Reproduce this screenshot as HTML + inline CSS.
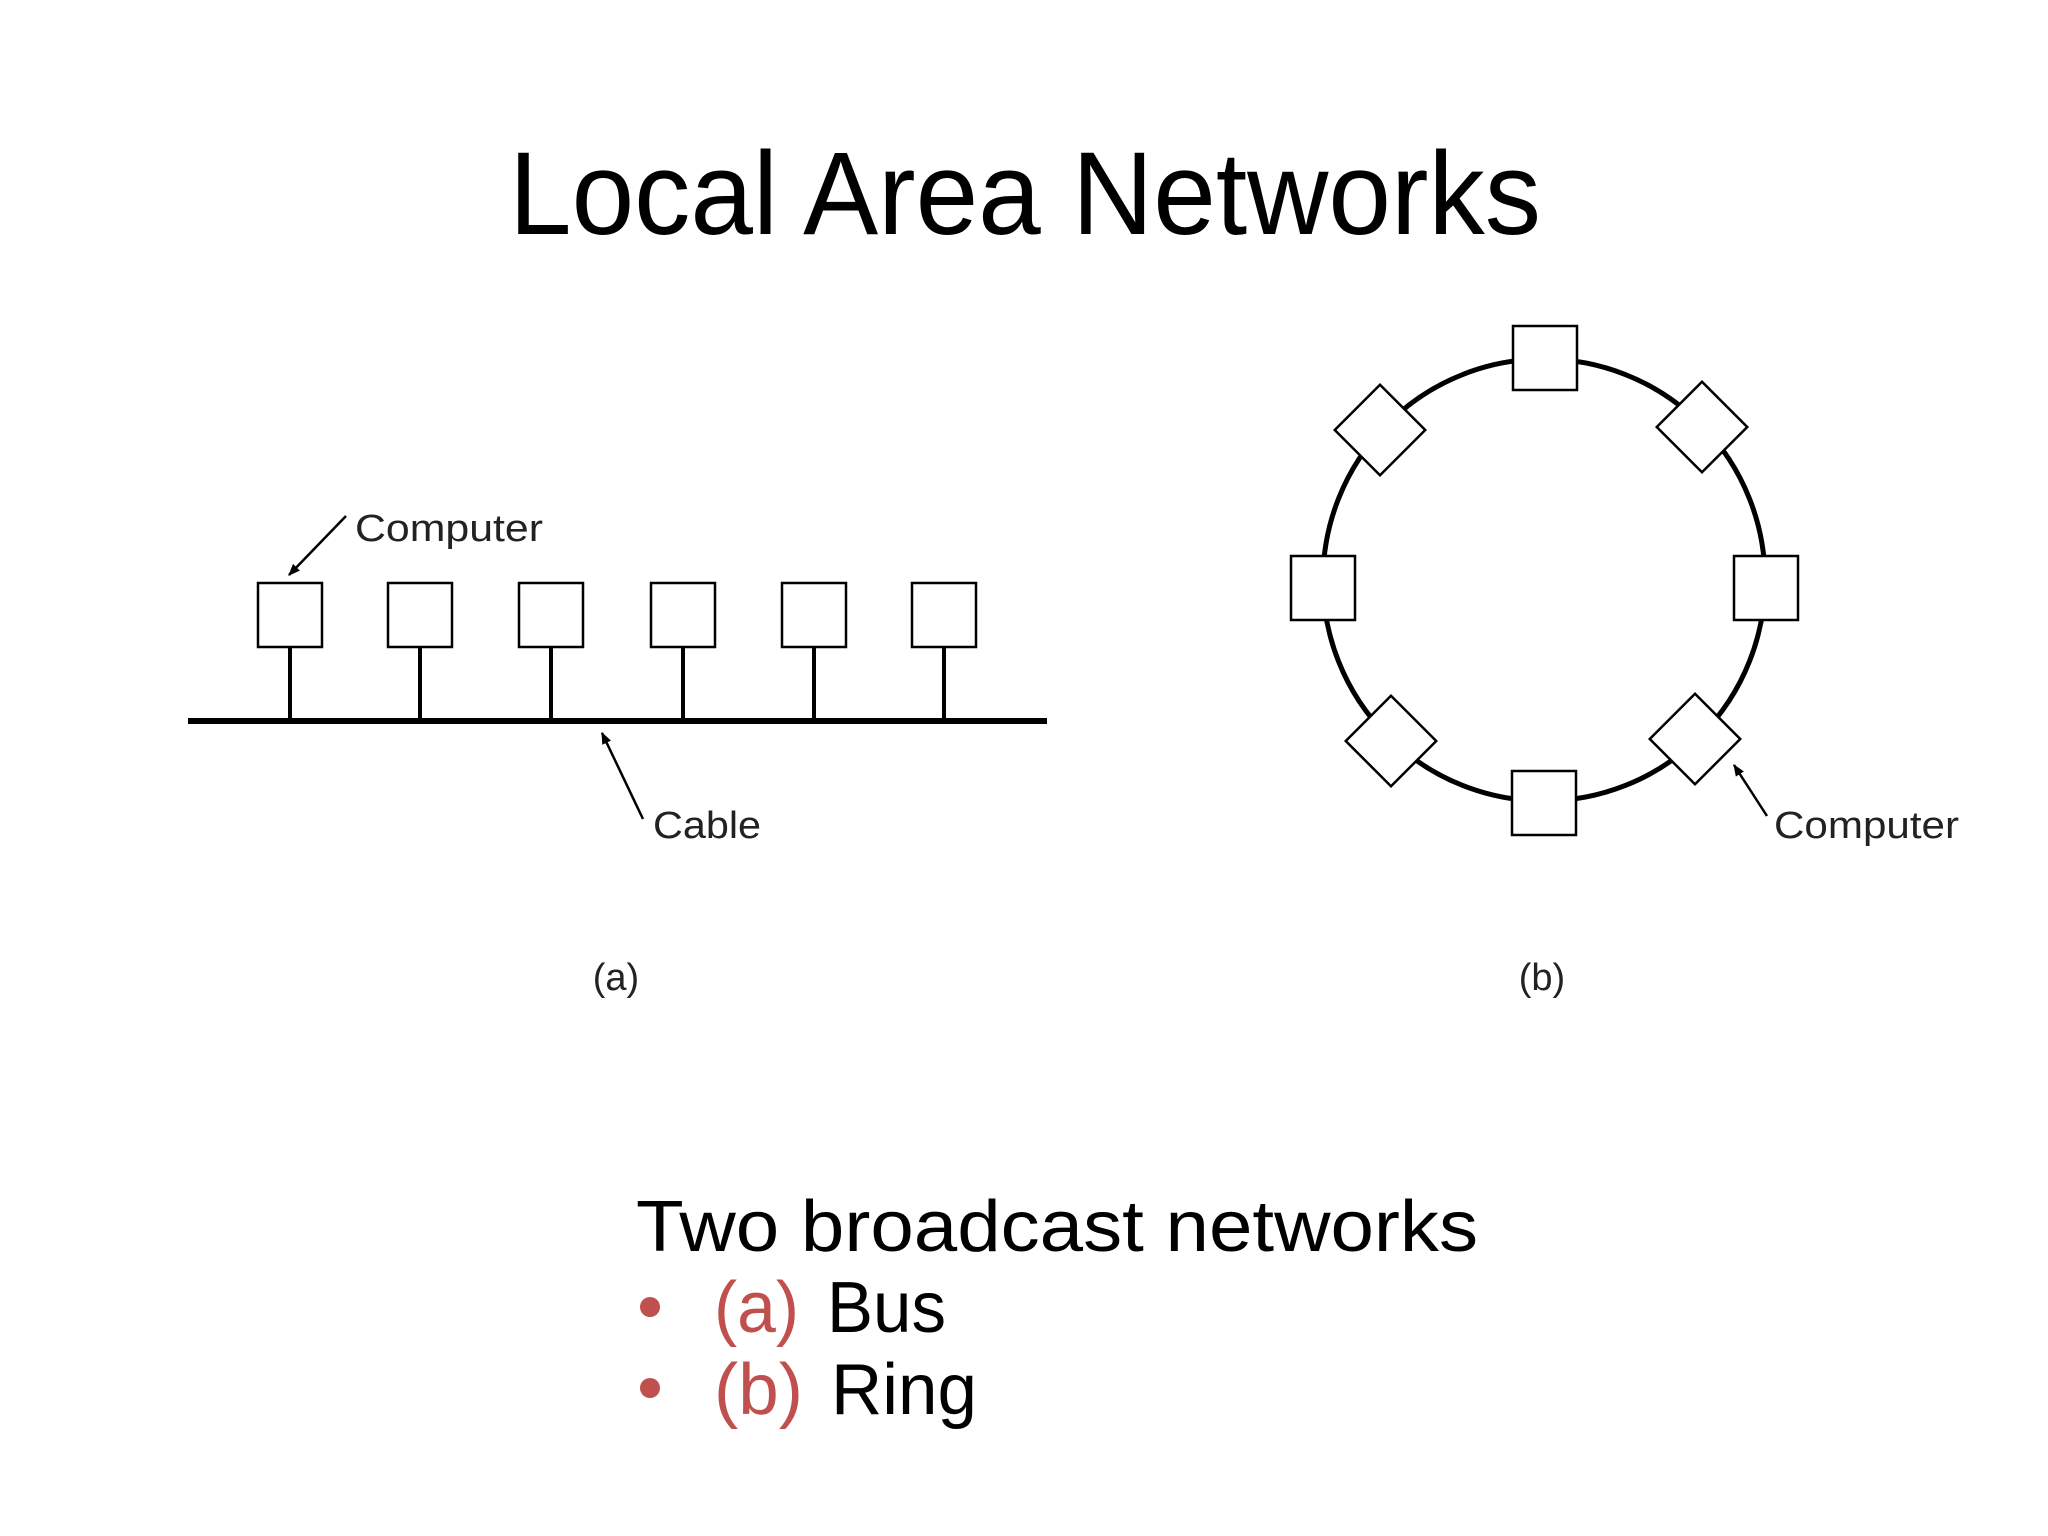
<!DOCTYPE html>
<html><head><meta charset="utf-8"><style>html,body{margin:0;padding:0;background:#fff}svg{display:block}</style></head>
<body>
<svg width="2048" height="1536" viewBox="0 0 2048 1536" xmlns="http://www.w3.org/2000/svg">
<defs>
<marker id="ah" viewBox="0 0 10 10" refX="9" refY="5" markerWidth="12" markerHeight="12" markerUnits="userSpaceOnUse" orient="auto"><path d="M0,1 L10,5 L0,9 z" fill="#000"/></marker>
</defs>
<rect width="2048" height="1536" fill="#fff"/>
<text x="509" y="234" font-family="Liberation Sans, sans-serif" font-size="118" textLength="1032" lengthAdjust="spacingAndGlyphs" fill="#000">Local Area Networks</text>

<!-- Bus -->
<line x1="188" y1="721" x2="1047" y2="721" stroke="#000" stroke-width="6"/>
<g stroke="#000" stroke-width="4" fill="#fff">
<line x1="290" y1="647" x2="290" y2="721"/><line x1="420" y1="647" x2="420" y2="721"/>
<line x1="551" y1="647" x2="551" y2="721"/><line x1="683" y1="647" x2="683" y2="721"/>
<line x1="814" y1="647" x2="814" y2="721"/><line x1="944" y1="647" x2="944" y2="721"/>
</g>
<g stroke="#000" stroke-width="2.5" fill="#fff">
<rect x="258" y="583" width="64" height="64"/><rect x="388" y="583" width="64" height="64"/>
<rect x="519" y="583" width="64" height="64"/><rect x="651" y="583" width="64" height="64"/>
<rect x="782" y="583" width="64" height="64"/><rect x="912" y="583" width="64" height="64"/>
</g>
<line x1="346" y1="516" x2="289" y2="575" stroke="#000" stroke-width="2.5" marker-end="url(#ah)"/>
<text x="355" y="541" font-family="Liberation Sans, sans-serif" font-size="38" textLength="188" lengthAdjust="spacingAndGlyphs" fill="#222">Computer</text>
<line x1="643" y1="819" x2="602" y2="733" stroke="#000" stroke-width="2.5" marker-end="url(#ah)"/>
<text x="653" y="838" font-family="Liberation Sans, sans-serif" font-size="38" textLength="108" lengthAdjust="spacingAndGlyphs" fill="#222">Cable</text>
<text x="616" y="990" text-anchor="middle" font-family="Liberation Sans, sans-serif" font-size="38" fill="#222">(a)</text>

<!-- Ring -->
<circle cx="1544" cy="580" r="221" fill="none" stroke="#000" stroke-width="5"/>
<g stroke="#000" stroke-width="2.5" fill="#fff">
<rect x="1513" y="326" width="64" height="64"/>
<rect x="1291" y="556" width="64" height="64"/>
<rect x="1734" y="556" width="64" height="64"/>
<rect x="1512" y="771" width="64" height="64"/>
<rect x="-32" y="-32" width="64" height="64" transform="translate(1380,430) rotate(45)"/>
<rect x="-32" y="-32" width="64" height="64" transform="translate(1702,427) rotate(45)"/>
<rect x="-32" y="-32" width="64" height="64" transform="translate(1391,741) rotate(45)"/>
<rect x="-32" y="-32" width="64" height="64" transform="translate(1695,739) rotate(45)"/>
</g>
<line x1="1767" y1="816" x2="1734" y2="765" stroke="#000" stroke-width="2.5" marker-end="url(#ah)"/>
<text x="1774" y="838" font-family="Liberation Sans, sans-serif" font-size="38" textLength="185" lengthAdjust="spacingAndGlyphs" fill="#222">Computer</text>
<text x="1542" y="990" text-anchor="middle" font-family="Liberation Sans, sans-serif" font-size="38" fill="#222">(b)</text>

<!-- Bottom text -->
<g font-family="Liberation Sans, sans-serif" font-size="72">
<text x="636" y="1251" textLength="842" lengthAdjust="spacingAndGlyphs" fill="#000">Two broadcast networks</text>
<circle cx="650" cy="1307" r="10" fill="#C0504D"/>
<text x="714" y="1332" textLength="85" lengthAdjust="spacingAndGlyphs" fill="#C0504D">(a)</text>
<text x="827" y="1332" textLength="119" lengthAdjust="spacingAndGlyphs" fill="#000">Bus</text>
<circle cx="650" cy="1388" r="10" fill="#C0504D"/>
<text x="714" y="1414" textLength="89" lengthAdjust="spacingAndGlyphs" fill="#C0504D">(b)</text>
<text x="831" y="1414" textLength="146" lengthAdjust="spacingAndGlyphs" fill="#000">Ring</text>
</g>
</svg>
</body></html>
